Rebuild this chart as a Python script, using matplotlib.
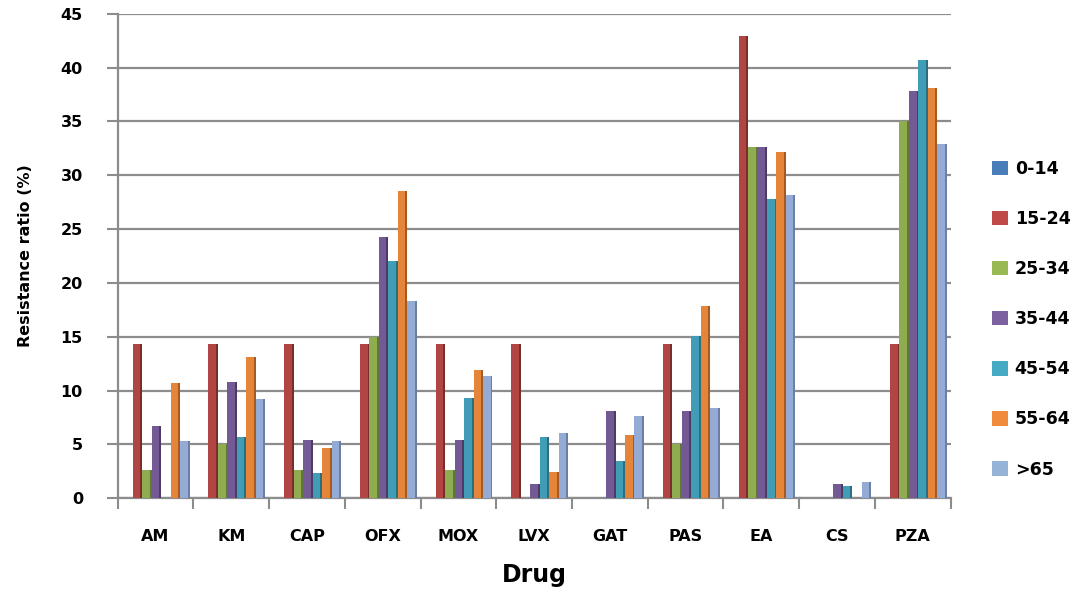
import matplotlib
matplotlib.use("Agg")
import matplotlib.pyplot as plt
import numpy as np
from matplotlib.patches import Patch

drugs = ["AM", "KM", "CAP", "OFX", "MOX", "LVX", "GAT", "PAS", "EA", "CS", "PZA"]
age_groups = ["0-14", "15-24", "25-34", "35-44", "45-54", "55-64", ">65"]

v_0_14  = [0, 0, 0, 0, 0, 0, 0, 0, 0, 0, 0]
v_15_24 = [14.3, 14.3, 14.3, 14.3, 14.3, 14.3, 0, 14.3, 42.9, 0, 14.3]
v_25_34 = [2.6, 5.0, 2.6, 15.0, 2.6, 0, 0, 5.0, 32.6, 0, 35.0]
v_35_44 = [6.7, 10.8, 5.4, 24.3, 5.4, 1.3, 8.1, 8.1, 32.6, 1.3, 37.8]
v_45_54 = [0, 5.7, 2.3, 22.0, 9.3, 5.7, 3.5, 15.1, 27.8, 1.1, 40.7]
v_55_64 = [10.7, 13.1, 4.7, 28.5, 11.9, 2.4, 5.9, 17.9, 32.2, 0, 38.1]
v_65    = [5.3, 9.2, 5.3, 18.3, 11.4, 6.1, 7.6, 8.4, 28.2, 1.5, 32.9]

series = [v_0_14, v_15_24, v_25_34, v_35_44, v_45_54, v_55_64, v_65]
face = ["#4A7EBB", "#B04543", "#8FAD50", "#735A94", "#409DB5", "#E5853A", "#93ABD5"]
side = ["#2F5788", "#7A2D2B", "#617838", "#4D3B66", "#2A6E80", "#A65A20", "#6A7FA3"]
legend_colors = ["#4A7EBB", "#BE4B48", "#98B954", "#7D60A0", "#46AAC5", "#F08A3C", "#95B3D7"]

fig = plt.figure(figsize=(10.79, 6.01), dpi=100)
ax = fig.add_axes([0.109, 0.171, 0.772, 0.806])

x = np.arange(len(drugs))
step = 0.125
w_front = 0.10
w_side = 0.025
for i, vals in enumerate(series):
    off = (i - 3) * step
    ax.bar(x + off, vals, width=w_front, color=face[i], zorder=3, linewidth=0)
    ax.bar(x + off + w_front / 2 + w_side / 2, vals, width=w_side,
           color=side[i], zorder=3, linewidth=0)

ax.set_xlim(-0.5, len(drugs) - 0.5)
ax.set_ylim(0, 45)
ax.set_yticks(np.arange(0, 46, 5))
ax.yaxis.grid(True, color="#8C8C8C", linewidth=1.6, zorder=0)
ax.set_axisbelow(True)

ax.set_xticks(x)
ax.set_xticklabels(drugs, fontsize=11.5, fontweight="bold")
ax.set_xticks(np.arange(-0.5, len(drugs), 1), minor=True)
ax.tick_params(axis="x", which="major", length=0, pad=22)
ax.tick_params(axis="x", which="minor", length=8, color="#8C8C8C", width=1.5)
ax.tick_params(axis="y", length=8, color="#8C8C8C", width=1.5, pad=17, labelsize=11.5)
for lab in ax.get_yticklabels():
    lab.set_fontweight("bold")

for s in ["top", "right"]:
    ax.spines[s].set_visible(False)
for s in ["left", "bottom"]:
    ax.spines[s].set_color("#8C8C8C")
    ax.spines[s].set_linewidth(1.6)

ax.set_ylabel("Resistance ratio (%)", fontsize=11.5, fontweight="bold", labelpad=20)
ax.set_xlabel("Drug", fontsize=17, fontweight="bold", labelpad=14)

handles = [Patch(facecolor=c, edgecolor="none") for c in legend_colors]
fig.legend(handles, age_groups, loc="upper left", bbox_to_anchor=(0.905, 0.76),
           frameon=False, prop={"weight": "bold", "size": 12.5},
           labelspacing=1.85, handlelength=0.9, handleheight=0.9, handletextpad=0.4)

fig.savefig("out.png", dpi=100)
